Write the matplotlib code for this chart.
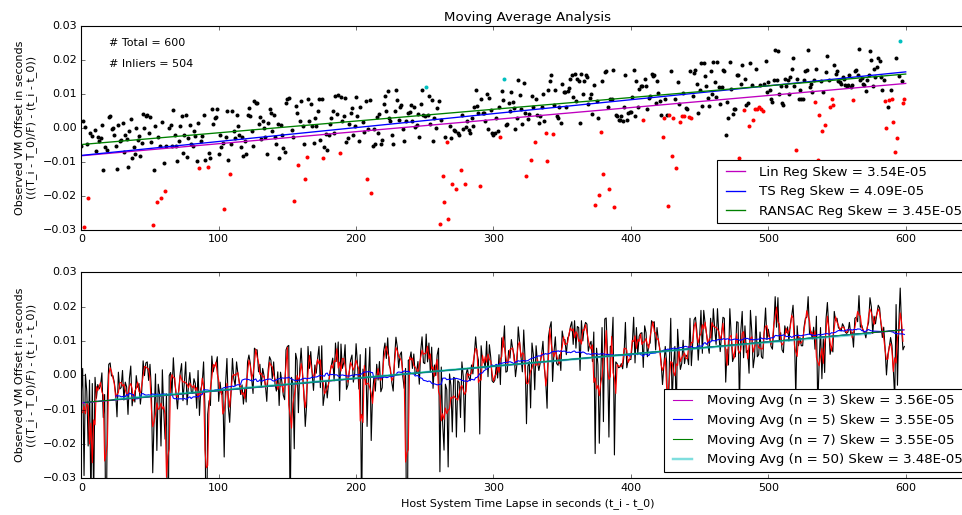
import matplotlib
matplotlib.use("Agg")
import matplotlib.pyplot as plt
import numpy as np
import pandas as pd

# ---------------- data (offsets in units of 1e-4 s) ----------------
offset_e4 = [
    -54, 20, -292, 3, -47, -206, -14, -380, -24, -360,
    -6, -67, -27, -40, -30, 7, -123, -56, -570, -64,
    32, 36, -2, -1, -20, -52, -121, 9, -40, -36,
    14, -72, -20, -34, -114, -10, 27, -89, -56, -78,
    -1, -35, -24, -84, -45, 42, -1, 36, 39, -15,
    32, -41, -284, -124, 4, -219, -26, -54, -206, 16,
    -104, -186, -54, -650, -1, 8, -53, 51, -20, -53,
    -98, -40, 6, 34, -74, -20, 39, -86, -30, 8,
    -46, -53, -10, -24, -96, 14, -117, -40, -24, 39,
    -94, -600, -114, -74, -88, 56, 10, 29, 32, 54,
    -76, -20, -56, -44, -238, -26, 49, -93, -137, -48,
    49, -10, -31, 39, 4, -20, -56, -28, -84, -40,
    -78, 39, 59, 34, -10, -53, 79, 74, 74, 10,
    32, -34, 20, -1, -28, -76, 15, 54, 44, -10,
    39, -26, -46, 10, -88, 9, -20, -58, -71, 74,
    84, 87, -430, -6, -26, -214, 64, 44, -109, 20,
    79, 4, -48, -149, -86, 84, 20, 69, 6, -44,
    30, 6, 50, 84, -36, 86, -88, -56, -18, -66,
    -21, 10, 29, 50, -16, 94, 40, 97, -74, 91,
    20, 36, 89, -41, -29, 10, 44, 59, -20, 6,
    92, 34, -40, 60, -420, 18, -11, 78, -149, -2,
    82, -190, -52, -4, -46, 32, -14, 40, -48, -36,
    69, 94, 49, 109, 30, 19, -21, -46, 50, 111,
    82, 22, 60, 68, -4, -38, 20, -740, 44, 46,
    68, 20, 62, 2, 8, 40, -26, 70, 112, 37,
    34, 120, 39, 94, 10, 82, -38, 30, -1, 59,
    79, -281, 24, -141, -218, -26, -42, -267, 4, -30,
    -165, -6, -9, -180, -16, -21, -123, 39, -4, -165,
    2, 20, -6, -16, 30, 4, 60, 112, 64, 44,
    -171, 86, 44, 44, 20, 99, -4, 89, 52, -16,
    -21, -14, 30, -8, 60, -27, 109, 82, 144, 9,
    12, 72, 50, 104, 76, 59, -4, 30, 141, 96,
    54, 10, 132, 44, -141, 26, 40, -95, 94, 60,
    -42, 86, 39, 14, 36, 60, 99, 20, -16, -96,
    112, 139, 156, -18, 66, 112, 34, 29, 60, 14,
    129, 104, 104, 60, 109, 116, 142, 156, 90, 159,
    79, 142, 139, 14, 159, 100, 139, 154, 149, 70,
    89, 99, 40, 126, -228, 79, 30, -198, -11, 139,
    -135, 164, 167, 60, -180, 84, 86, 169, -232, 39,
    34, 22, 24, 34, 19, 60, 154, 22, 44, 46,
    46, 90, 169, 36, 139, 60, 114, 122, 124, 23,
    144, 124, 54, 89, 94, 159, 152, 156, 74, 139,
    101, 79, 39, -27, 30, 84, 39, -229, 37, 166,
    -84, 30, 84, -118, 134, 69, 17, 34, 102, 34,
    59, 54, 31, 166, 28, 94, 162, 169, 129, 44,
    110, 189, 64, 189, 152, 122, 89, 64, 166, 100,
    194, 136, 90, 194, 119, 69, 120, 169, 166, -20,
    76, 30, 194, 114, 40, 54, 54, 156, 154, -90,
    129, 186, 51, 144, 66, 72, 6, 189, 126, 22,
    54, 172, 54, 60, 126, 54, 49, 129, 196, 104,
    134, 110, 84, 76, 140, 229, 140, 226, 100, 124,
    74, 66, 144, 124, 141, 100, 148, 172, 204, 124,
    -65, 144, 86, 110, 86, 86, 140, 166, 169, 229,
    120, 129, 106, 140, 76, 172, -93, 37, 139, -10,
    106, 8, 164, 212, 140, 61, 84, 68, 186, 159,
    166, 139, 134, 129, 150, 142, 126, 122, 126, 154,
    120, 126, 82, 166, 169, 156, 232, 140, 146, 129,
    126, 109, 140, 154, 226, 199, 122, 172, 150, 179,
    204, 196, 150, 110, 140, 78, 1, 60, 81, 110,
    86, 17, -70, 206, -29, 152, 254, 139, 74, 84,
]

outlier_idx = [2, 5, 7, 9, 18, 52, 55, 58, 61, 63, 86, 91, 92, 104, 108, 152, 155, 158,
               163, 164, 176, 188, 204, 208, 211, 237, 261, 263, 264, 266, 267, 270, 273,
               276, 279, 290, 305, 324, 327, 330, 338, 339, 343, 374, 377, 378, 380, 384,
               388, 409, 423, 424, 427, 428, 430, 431, 433, 436, 437, 439, 442, 444, 479,
               482, 486, 489, 490, 492, 493, 495, 496, 520, 534, 536, 537, 539, 541, 545,
               546, 547, 562, 585, 586, 588, 590, 591, 592, 594, 598, 599]
high_idx = [251, 308, 596]

# regression results (top panel)
reg_labels = ["Lin Reg Skew = 3.54E-05", "TS Reg Skew = 4.09E-05", "RANSAC Reg Skew = 3.45E-05"]
reg_slopes = [3.54e-5, 4.09e-5, 3.45e-5]
reg_intercepts = [-0.0082, -0.0081, -0.0049]
reg_colors = ["m", "b", "g"]

# moving-average fits (bottom panel)
ma_labels = ["Moving Avg (n = 3) Skew = 3.56E-05", "Moving Avg (n = 5) Skew = 3.55E-05",
             "Moving Avg (n = 7) Skew = 3.55E-05", "Moving Avg (n = 50) Skew = 3.48E-05"]
ma_windows = [3, 5, 7, 50]
ma_slopes = [3.56e-5, 3.55e-5, 3.55e-5, 3.48e-5]
ma_intercepts = [-0.0081, -0.0080, -0.0080, -0.0078]
ma_colors = ["m", "b", "g", "c"]

total_text = "# Total = 600"
inlier_text = "# Inliers = 504"

# ---------------- plotting ----------------
plt.style.use("classic")
plt.rcParams.update({
    "font.size": 10,
    "font.family": ["DejaVu Sans"],
    "figure.facecolor": "white",
    "savefig.facecolor": "white",
    "legend.numpoints": 2,
})

y = np.array(offset_e4, dtype=float) * 1e-4
x = np.arange(len(y), dtype=float)
n = len(y)
mask_out = np.zeros(n, bool)
mask_out[outlier_idx] = True
mask_hi = np.zeros(n, bool)
mask_hi[high_idx] = True
mask_in = ~(mask_out | mask_hi)

fig = plt.figure(figsize=(962 / 80, 515 / 80), dpi=80)
ax1 = fig.add_axes([0.0845, 0.5534, 0.9284, 0.3967])
ax2 = fig.add_axes([0.0845, 0.0713, 0.9284, 0.4000])

ylabel = "Observed VM Offset in seconds\n(((T_i - T_0)/F) - (t_i - t_0))"

# top panel
ax1.plot(x[mask_in], y[mask_in], "o", color="k", ms=3.6, mec="none")
ax1.plot(x[mask_out], y[mask_out], "o", color="r", ms=3.6, mec="none")
ax1.plot(x[mask_hi], y[mask_hi], "o", color="c", ms=3.6, mec="none")
xl = np.array([x[0], x[-1] + 1])
for lab, s, b, c in zip(reg_labels, reg_slopes, reg_intercepts, reg_colors):
    ax1.plot(xl, b + s * xl, color=c, lw=1.2, label=lab)
ax1.text(20, 0.024, total_text, fontsize=10)
ax1.text(20, 0.018, inlier_text, fontsize=10)
ax1.set_title("Moving Average Analysis", fontsize=12, pad=4)
ax1.set_ylabel(ylabel)
ax1.legend(loc="lower right", fontsize=12, fancybox=False, framealpha=1)

# bottom panel
ax2.plot(x, y, color="k", lw=1)
ma3 = np.convolve(y, np.ones(3) / 3, mode="valid")
ax2.plot(x[1:-1], ma3, color="r", lw=1)
ma50 = pd.Series(y).rolling(50, center=True, min_periods=25).mean().to_numpy()
ax2.plot(x[25:], ma50[25:], color="b", lw=1)
for lab, w, s, b, c in zip(ma_labels, ma_windows, ma_slopes, ma_intercepts, ma_colors):
    h = w // 2
    xs = np.array([x[h], x[-1 - h] + (1 if w < 50 else 0)])
    if c == "c":
        ax2.plot(xs, b + s * xs, color=c, lw=2.2, alpha=0.5, label=lab)
    else:
        ax2.plot(xs, b + s * xs, color=c, lw=1, label=lab)
ax2.set_ylabel(ylabel)
ax2.set_xlabel("Host System Time Lapse in seconds (t_i - t_0)")
ax2.legend(loc="lower right", fontsize=12, fancybox=False, framealpha=1)


def fmt(v, pos):
    return ("%.2f" % v).replace("-", "\u2212")


for ax in (ax1, ax2):
    ax.set_xlim(0, 650)
    ax.set_ylim(-0.03, 0.03)
    ax.set_xticks([0, 100, 200, 300, 400, 500, 600])
    ax.set_yticks([-0.03, -0.02, -0.01, 0.0, 0.01, 0.02, 0.03])
    ax.yaxis.set_major_formatter(matplotlib.ticker.FuncFormatter(fmt))
    ax.tick_params(labelsize=10)

fig.savefig("out.png", dpi=80)
